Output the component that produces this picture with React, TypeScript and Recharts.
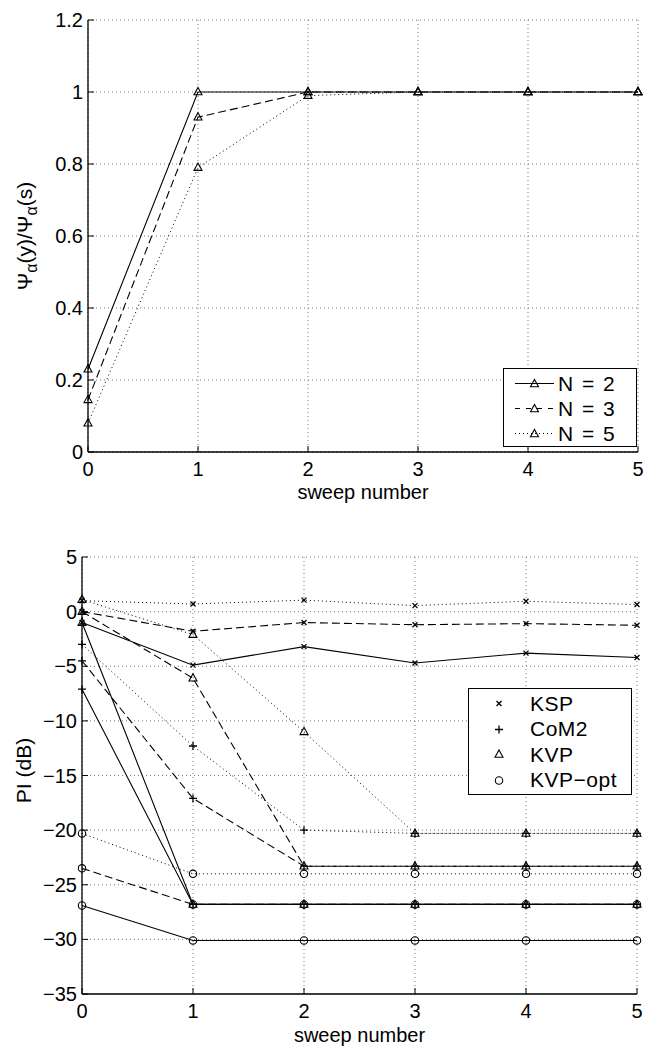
import React from 'react';
import { LineChart, Line, XAxis, YAxis, CartesianGrid, Legend, Label } from 'recharts';

const sweeps = [0, 1, 2, 3, 4, 5];

// top panel: Psi ratio for each N
const ratioN2 = [0.23, 1.0, 1.0, 1.0, 1.0, 1.0];
const ratioN3 = [0.145, 0.93, 1.0, 1.0, 1.0, 1.0];
const ratioN5 = [0.08, 0.79, 0.99, 1.0, 1.0, 1.0];
const ratioTicks = [0, 0.2, 0.4, 0.6, 0.8, 1, 1.2];

// bottom panel: PI (dB), solid = N=2, dashed = N=3, dotted = N=5
const kspN2 = [-1.0, -4.9, -3.2, -4.7, -3.8, -4.2];
const kspN3 = [0.0, -1.8, -1.0, -1.2, -1.1, -1.25];
const kspN5 = [1.0, 0.7, 1.05, 0.55, 0.95, 0.65];
const comN2 = [-7.1, -26.8, -26.8, -26.8, -26.8, -26.8];
const comN3 = [-4.5, -17.1, -23.3, -23.3, -23.3, -23.3];
const comN5 = [-3.0, -12.3, -20.0, -20.3, -20.3, -20.3];
const kvpN2 = [-1.0, -26.8, -26.8, -26.8, -26.8, -26.8];
const kvpN3 = [0.0, -6.1, -23.3, -23.3, -23.3, -23.3];
const kvpN5 = [1.1, -2.1, -11.0, -20.3, -20.3, -20.3];
const optN2 = [-26.9, -30.1, -30.1, -30.1, -30.1, -30.1];
const optN3 = [-23.5, -26.8, -26.8, -26.8, -26.8, -26.8];
const optN5 = [-20.3, -24.0, -24.0, -24.0, -24.0, -24.0];
const piTicks = [-35, -30, -25, -20, -15, -10, -5, 0, 5];

const methods = ['KSP', 'CoM2', 'KVP', 'KVP\u2212opt'];

type Shape = 'tri' | 'x' | 'plus' | 'circle';

const DASHED = '8 4';
const DOTTED = '1 3';
const FONT = '"Liberation Sans", Arial, sans-serif';

const topData = sweeps.map((s, i) => ({ sweep: s, n2: ratioN2[i], n3: ratioN3[i], n5: ratioN5[i] }));

const bottomSeries: { key: string; values: number[]; shape: Shape; dash?: string }[] = [
  { key: 'optN5', values: optN5, shape: 'circle', dash: DOTTED },
  { key: 'optN3', values: optN3, shape: 'circle', dash: DASHED },
  { key: 'optN2', values: optN2, shape: 'circle' },
  { key: 'comN5', values: comN5, shape: 'plus', dash: DOTTED },
  { key: 'comN3', values: comN3, shape: 'plus', dash: DASHED },
  { key: 'comN2', values: comN2, shape: 'plus' },
  { key: 'kvpN5', values: kvpN5, shape: 'tri', dash: DOTTED },
  { key: 'kvpN3', values: kvpN3, shape: 'tri', dash: DASHED },
  { key: 'kvpN2', values: kvpN2, shape: 'tri' },
  { key: 'kspN5', values: kspN5, shape: 'x', dash: DOTTED },
  { key: 'kspN3', values: kspN3, shape: 'x', dash: DASHED },
  { key: 'kspN2', values: kspN2, shape: 'x' },
];

const bottomData = sweeps.map((s, i) => {
  const row: Record<string, number> = { sweep: s };
  bottomSeries.forEach((d) => {
    row[d.key] = d.values[i];
  });
  return row;
});

function Marker({ shape, x, y }: { shape: Shape; x: number; y: number }) {
  if (shape === 'tri')
    return <path d={`M${x},${y - 4.5} L${x + 4},${y + 2.8} L${x - 4},${y + 2.8} Z`} fill="none" stroke="#000" strokeWidth={1.1} />;
  if (shape === 'x')
    return (
      <path d={`M${x - 2.5},${y - 2.5} L${x + 2.5},${y + 2.5} M${x - 2.5},${y + 2.5} L${x + 2.5},${y - 2.5}`} stroke="#000" strokeWidth={1.3} />
    );
  if (shape === 'plus')
    return <path d={`M${x - 4},${y} L${x + 4},${y} M${x},${y - 4} L${x},${y + 4}`} stroke="#000" strokeWidth={1.3} />;
  return <circle cx={x} cy={y} r={3.7} fill="none" stroke="#000" strokeWidth={1.1} />;
}

const dotFor = (shape: Shape, id: string) => (p: any) =>
  <Marker key={`${id}-${p.index}`} shape={shape} x={p.cx} y={p.cy} />;

const tickStyle = { fill: '#000', fontSize: 20, fontFamily: FONT };
const axisLine = { stroke: '#000', strokeWidth: 1.3 };

const minus = (v: number) => (v < 0 ? `\u2212${Math.abs(v)}` : String(v));

function TopLegend() {
  const rows = [
    { label: 'N = 2', dash: undefined },
    { label: 'N = 3', dash: '5 6' },
    { label: 'N = 5', dash: DOTTED },
  ];
  return (
    <div style={{ border: '1px solid #000', background: '#fff', width: 134, height: 79, boxSizing: 'border-box', paddingTop: 2 }}>
      {rows.map((r) => (
        <div key={r.label} style={{ display: 'flex', alignItems: 'center', height: 25 }}>
          <svg width={54} height={25}>
            <line x1={11} x2={50} y1={12.5} y2={12.5} stroke="#000" strokeDasharray={r.dash} />
            <Marker shape="tri" x={30.5} y={13} />
          </svg>
          <span style={{ fontSize: 21, fontFamily: FONT, color: '#000', wordSpacing: 3 }}>{r.label}</span>
        </div>
      ))}
    </div>
  );
}

function BottomLegend() {
  const shapes: Shape[] = ['x', 'plus', 'tri', 'circle'];
  return (
    <div style={{ border: '1px solid #000', background: '#fff', width: 164, height: 107, boxSizing: 'border-box', paddingTop: 2 }}>
      {methods.map((m, i) => (
        <div key={m} style={{ display: 'flex', alignItems: 'center', height: 25.5 }}>
          <svg width={61} height={25}>
            <Marker shape={shapes[i]} x={30} y={12.5} />
          </svg>
          <span style={{ fontSize: 21, fontFamily: FONT, color: '#000', letterSpacing: 0.5 }}>{m}</span>
        </div>
      ))}
    </div>
  );
}

const PsiLabel = (props: any) => {
  const vb = props.viewBox;
  const cy = vb.y + vb.height / 2;
  return (
    <text transform={`translate(32,${cy}) rotate(-90)`} textAnchor="middle" fontSize={21} fontFamily={FONT} fill="#000">
      {'\u03A8'}
      <tspan dy={5} fontSize={16}>{'\u03B1'}</tspan>
      <tspan dy={-5}>(y)/{'\u03A8'}</tspan>
      <tspan dy={5} fontSize={16}>{'\u03B1'}</tspan>
      <tspan dy={-5}>(s)</tspan>
    </text>
  );
};

const PiLabel = (props: any) => {
  const vb = props.viewBox;
  const cy = vb.y + vb.height / 2 - 5;
  return (
    <text transform={`translate(31,${cy}) rotate(-90)`} textAnchor="middle" fontSize={21} fontFamily={FONT} fill="#000">
      PI (dB)
    </text>
  );
};

const sweepLabel = (lift: number) => (props: any) => {
  const vb = props.viewBox;
  return (
    <text x={vb.x + vb.width / 2} y={vb.y + vb.height - lift} textAnchor="middle" fontSize={20} fontFamily={FONT} fill="#000">
      sweep number
    </text>
  );
};

export default function App() {
  return (
    <div style={{ position: 'absolute', left: 0, top: 0, width: 646, height: 1048, background: '#fff', fontFamily: FONT }}>
      <div style={{ position: 'absolute', left: 0, top: 0 }}>
        <LineChart width={646} height={510} data={topData} margin={{ top: 20, right: 8, bottom: 10, left: 0 }}>
          <CartesianGrid stroke="#777" strokeDasharray={DOTTED} />
          <XAxis dataKey="sweep" type="number" domain={[0, 5]} ticks={sweeps} height={48} axisLine={axisLine}
            tickLine={{ stroke: '#000' }} tickSize={-6} tickMargin={16} tick={tickStyle}>
            <Label content={sweepLabel(1)} />
          </XAxis>
          <XAxis xAxisId="top" orientation="top" dataKey="sweep" type="number" domain={[0, 5]} ticks={sweeps}
            height={0} axisLine={axisLine} tickLine={{ stroke: '#000' }} tickSize={-6} tick={false} />
          <YAxis type="number" domain={[0, 1.2]} ticks={ratioTicks} width={88} axisLine={axisLine}
            tickLine={{ stroke: '#000' }} tickSize={-6} tickMargin={11} tick={tickStyle}>
            <Label content={PsiLabel} />
          </YAxis>
          <YAxis yAxisId="right" orientation="right" type="number" domain={[0, 1.2]} ticks={ratioTicks}
            width={0} axisLine={axisLine} tickLine={{ stroke: '#000' }} tickSize={-6} tick={false} />
          <Line dataKey="n5" stroke="#000" strokeWidth={1} strokeDasharray={DOTTED} dot={dotFor('tri', 'n5')}
            activeDot={false} isAnimationActive={false} />
          <Line dataKey="n3" stroke="#000" strokeWidth={1.1} strokeDasharray={DASHED} dot={dotFor('tri', 'n3')}
            activeDot={false} isAnimationActive={false} />
          <Line dataKey="n2" stroke="#000" strokeWidth={1.1} dot={dotFor('tri', 'n2')}
            activeDot={false} isAnimationActive={false} />
          <Legend layout="vertical" align="center" verticalAlign="middle" content={() => <TopLegend />}
            wrapperStyle={{ left: 503, top: 368, width: 134, height: 79 }} />
        </LineChart>
      </div>
      <div style={{ position: 'absolute', left: 0, top: 510 }}>
        <LineChart width={646} height={538} data={bottomData} margin={{ top: 47, right: 9, bottom: 0, left: 0 }}>
          <CartesianGrid stroke="#777" strokeDasharray={DOTTED} />
          <XAxis dataKey="sweep" type="number" domain={[0, 5]} ticks={sweeps} height={54} axisLine={axisLine}
            tickLine={{ stroke: '#000' }} tickSize={-6} tickMargin={16} tick={tickStyle}>
            <Label content={sweepLabel(6)} />
          </XAxis>
          <XAxis xAxisId="top" orientation="top" dataKey="sweep" type="number" domain={[0, 5]} ticks={sweeps}
            height={0} axisLine={axisLine} tickLine={{ stroke: '#000' }} tickSize={-6} tick={false} />
          <YAxis type="number" domain={[-35, 5]} ticks={piTicks} width={82} axisLine={axisLine}
            tickLine={{ stroke: '#000' }} tickSize={-6} tickMargin={11} tick={tickStyle} tickFormatter={minus}>
            <Label content={PiLabel} />
          </YAxis>
          <YAxis yAxisId="right" orientation="right" type="number" domain={[-35, 5]} ticks={piTicks}
            width={0} axisLine={axisLine} tickLine={{ stroke: '#000' }} tickSize={-6} tick={false} />
          {bottomSeries.map((s) => (
            <Line key={s.key} dataKey={s.key} stroke="#000" strokeWidth={s.dash === DOTTED ? 1 : 1.1}
              strokeDasharray={s.dash} dot={dotFor(s.shape, s.key)} activeDot={false} isAnimationActive={false} />
          ))}
          <Legend layout="vertical" align="center" verticalAlign="middle" content={() => <BottomLegend />}
            wrapperStyle={{ left: 468, top: 178, width: 164, height: 107 }} />
        </LineChart>
      </div>
    </div>
  );
}
